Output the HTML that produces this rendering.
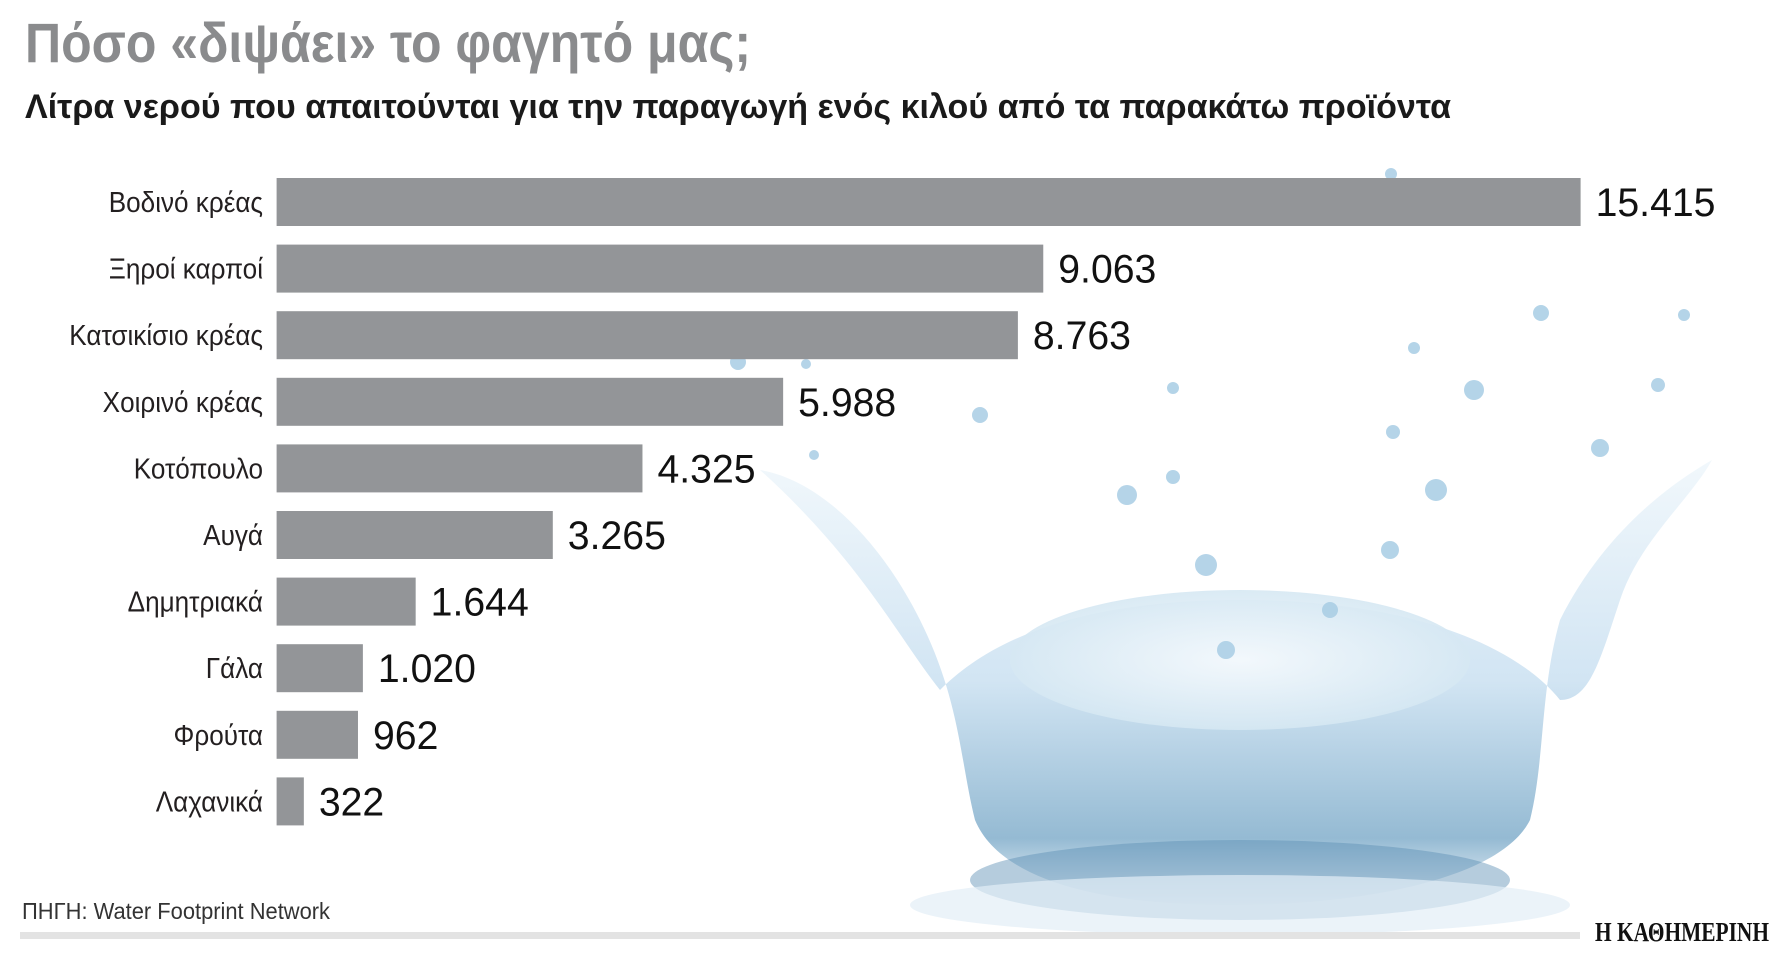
<!DOCTYPE html>
<html><head><meta charset="utf-8"><style>
html,body{margin:0;padding:0;background:#fff;}
svg{display:block;}
text{font-family:"Liberation Sans","DejaVu Sans",sans-serif;}
</style></head><body>
<svg id="chart" width="1770" height="956" viewBox="0 0 1770 956">
<defs>
<linearGradient id="wg" x1="0" y1="0" x2="0" y2="1">
<stop offset="0" stop-color="#eef6fb"/><stop offset="0.5" stop-color="#c6def0"/><stop offset="0.85" stop-color="#7aa9c8"/><stop offset="1" stop-color="#f2f7fb"/>
</linearGradient>
<radialGradient id="inner" cx="0.5" cy="0.5" r="0.5">
<stop offset="0" stop-color="#f6fafd"/><stop offset="1" stop-color="#d6e8f3"/>
</radialGradient>
</defs>
<g>
<path d="M760,470 C820,480 880,540 920,620 C960,700 960,760 975,820 C1000,880 1100,905 1230,905 C1360,905 1500,880 1530,820 C1545,760 1540,690 1560,620 C1600,540 1660,490 1712,460 C1690,500 1640,540 1620,600 C1600,660 1590,700 1560,700 C1520,650 1420,600 1240,600 C1060,600 980,650 940,690 C900,640 860,560 760,470 Z" fill="url(#wg)" opacity="0.8"/>
<ellipse cx="1240" cy="660" rx="230" ry="70" fill="url(#inner)" opacity="0.9"/>
<ellipse cx="1240" cy="880" rx="270" ry="40" fill="#5a8fb3" opacity="0.45"/>
<ellipse cx="1240" cy="905" rx="330" ry="30" fill="#e2eef6" opacity="0.7"/>
<g fill="#a8cde4" opacity="0.85">
<circle cx="1541" cy="313" r="8"/><circle cx="1684" cy="315" r="6"/><circle cx="1414" cy="348" r="6"/><circle cx="1474" cy="390" r="10"/><circle cx="1658" cy="385" r="7"/><circle cx="1173" cy="388" r="6"/><circle cx="980" cy="415" r="8"/><circle cx="1393" cy="432" r="7"/><circle cx="1600" cy="448" r="9"/><circle cx="1436" cy="490" r="11"/><circle cx="1127" cy="495" r="10"/><circle cx="1173" cy="477" r="7"/><circle cx="1206" cy="565" r="11"/><circle cx="1390" cy="550" r="9"/><circle cx="1330" cy="610" r="8"/><circle cx="1226" cy="650" r="9"/><circle cx="1391" cy="174" r="6"/><circle cx="738" cy="362" r="8"/><circle cx="806" cy="364" r="5"/><circle cx="814" cy="455" r="5"/>
</g>
</g>
<text x="25" y="62" font-size="56" font-weight="bold" fill="#8a8b8d" textLength="726" lengthAdjust="spacingAndGlyphs">Πόσο «διψάει» το φαγητό μας;</text>
<text x="25" y="118" font-size="34" font-weight="bold" fill="#1a1a1a" textLength="1426" lengthAdjust="spacingAndGlyphs">Λίτρα νερού που απαιτούνται για την παραγωγή ενός κιλού από τα παρακάτω προϊόντα</text>
<g id="bars"></g>
<text x="22" y="919" font-size="23" fill="#333" textLength="308" lengthAdjust="spacingAndGlyphs">ΠΗΓΗ: Water Footprint Network</text>
<rect x="20" y="932" width="1560" height="7" fill="#e3e3e3"/>
<text x="1595" y="941" font-size="27" font-weight="bold" fill="#111" textLength="174" lengthAdjust="spacingAndGlyphs" style="font-family:'Liberation Serif',serif">Η ΚΑΘΗΜΕΡΙΝΗ</text>
</svg>
<script>
const categories = ["Βοδινό κρέας","Ξηροί καρποί","Κατσικίσιο κρέας","Χοιρινό κρέας","Κοτόπουλο","Αυγά","Δημητριακά","Γάλα","Φρούτα","Λαχανικά"];
const values = [15415, 9063, 8763, 5988, 4325, 3265, 1644, 1020, 962, 322];
const valueLabels = ["15.415","9.063","8.763","5.988","4.325","3.265","1.644","1.020","962","322"];

const NS = "http://www.w3.org/2000/svg";
const x0 = 276.6, maxW = 1304, maxV = 15415;
const xScale = v => v / maxV * maxW;
const yBand = i => 178 + i * 66.6;
const barH = 48;
const g = document.getElementById('bars');
categories.forEach((c, i) => {
  const y = yBand(i);
  const w = xScale(values[i]);
  const r = document.createElementNS(NS, 'rect');
  r.setAttribute('x', x0); r.setAttribute('y', y);
  r.setAttribute('width', w); r.setAttribute('height', barH);
  r.setAttribute('fill', '#939598');
  
  
  g.appendChild(r);
  const l = document.createElementNS(NS, 'text');
  l.setAttribute('x', 263); l.setAttribute('y', y + barH/2 + 10);
  l.setAttribute('text-anchor', 'end'); l.setAttribute('font-size', '29');
  l.setAttribute('fill', '#231f20');
  l.setAttribute('transform', `translate(263,0) scale(0.9,1) translate(-263,0)`);
  l.textContent = c;
  
  
  g.appendChild(l);
  const vx = x0 + w + 15;
  const t = document.createElementNS(NS, 'text');
  t.setAttribute('x', vx); t.setAttribute('y', y + barH/2 + 14);
  t.setAttribute('font-size', '40'); t.setAttribute('fill', '#111');
  t.setAttribute('transform', `translate(${vx},0) scale(0.98,1) translate(${-vx},0)`);
  t.textContent = valueLabels[i];
  
  
  g.appendChild(t);
});
</script>
</body></html>
